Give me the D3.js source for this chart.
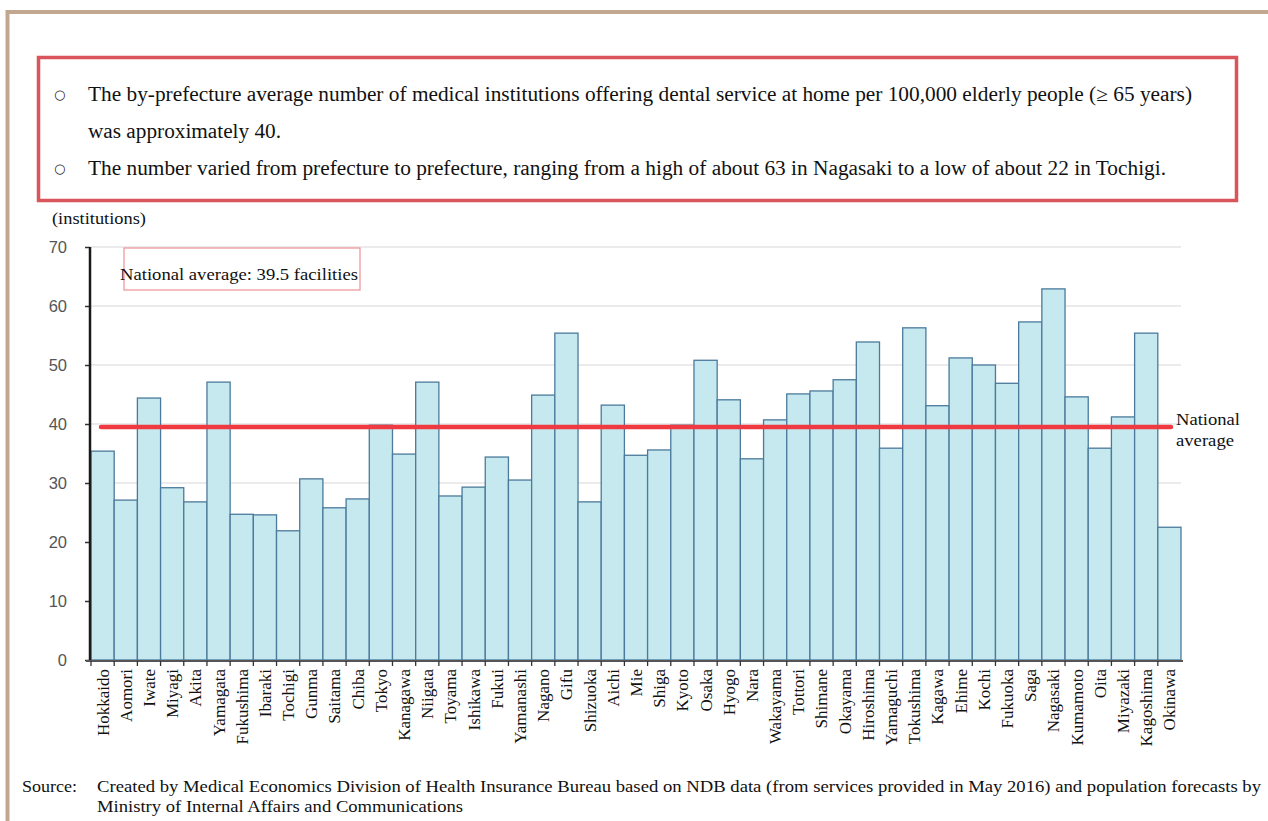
<!DOCTYPE html>
<html><head><meta charset="utf-8">
<script src="https://cdn.jsdelivr.net/npm/d3@7"></script>
<style>body{margin:0;background:#fff;}svg{display:block;}</style>
</head><body>
<script>
const prefectures = ["Hokkaido","Aomori","Iwate","Miyagi","Akita","Yamagata","Fukushima","Ibaraki","Tochigi","Gunma","Saitama","Chiba","Tokyo","Kanagawa","Niigata","Toyama","Ishikawa","Fukui","Yamanashi","Nagano","Gifu","Shizuoka","Aichi","Mie","Shiga","Kyoto","Osaka","Hyogo","Nara","Wakayama","Tottori","Shimane","Okayama","Hiroshima","Yamaguchi","Tokushima","Kagawa","Ehime","Kochi","Fukuoka","Saga","Nagasaki","Kumamoto","Oita","Miyazaki","Kagoshima","Okinawa"];
const values = [35.4,27.1,44.4,29.2,26.8,47.1,24.7,24.6,21.9,30.7,25.8,27.3,39.8,34.9,47.1,27.8,29.3,34.4,30.5,44.9,55.4,26.8,43.2,34.7,35.6,39.8,50.8,44.1,34.1,40.7,45.1,45.6,47.5,53.9,35.9,56.3,43.1,51.2,50.0,46.9,57.3,62.9,44.6,35.9,41.2,55.4,22.5];
const nationalAverage = 39.5;
const yTicks = [0,10,20,30,40,50,60,70];
const bulletLines = [
  {bullet:true, text:"The by-prefecture average number of medical institutions offering dental service at home per 100,000 elderly people (\u2265 65 years)"},
  {bullet:false, text:"was approximately 40."},
  {bullet:true, text:"The number varied from prefecture to prefecture, ranging from a high of about 63 in Nagasaki to a low of about 22 in Tochigi."}
];
const sourceLines = ["Created by Medical Economics Division of Health Insurance Bureau based on NDB data (from services provided in May 2016) and population forecasts by","Ministry of Internal Affairs and Communications"];

const W=1268,H=821;
const svg=d3.select("body").append("svg").attr("width",W).attr("height",H);
const serif="'Liberation Serif','Times New Roman',serif";

function txt(xp,yp,s,size,len){
  const t=svg.append("text").attr("x",xp).attr("y",yp).attr("font-family",serif).attr("font-size",size).attr("fill","#111").text(s);
  if(len) t.attr("textLength",len).attr("lengthAdjust","spacingAndGlyphs");
  return t;
}

// outer frame (top & left)
svg.append("line").attr("x1",7.5).attr("x2",W).attr("y1",12).attr("y2",12).attr("stroke","#c1a790").attr("stroke-width",4);
svg.append("line").attr("x1",7.5).attr("x2",7.5).attr("y1",10).attr("y2",H).attr("stroke","#c1a790").attr("stroke-width",4);

// summary box
svg.append("rect").attr("x",38.5).attr("y",57.5).attr("width",1198).attr("height",143).attr("fill","none").attr("stroke","#d9555b").attr("stroke-width",3.5);
const lineY=[101,138,175];
const lineLen=[1104,193,1078];
bulletLines.forEach((l,i)=>{
  if(l.bullet) svg.append("text").attr("x",54).attr("y",lineY[i]-2).attr("font-family","'DejaVu Sans',sans-serif").attr("font-size",13).attr("fill","#222").text("\u25CB");
  txt(88,lineY[i],l.text,20,lineLen[i]);
});

// chart
const m={l:90,r:1181,t:247,b:660};
const x=d3.scaleBand().domain(prefectures).range([m.l+1,m.r]).padding(0);
const y=d3.scaleLinear().domain([0,70]).range([m.b,m.t]);

txt(52,224,"(institutions)",17,94);

// grid
svg.append("g").selectAll("line").data(yTicks.filter(d=>d>0)).join("line")
  .attr("x1",m.l).attr("x2",m.r).attr("y1",d=>y(d)).attr("y2",d=>y(d))
  .attr("stroke","#e4e4e4").attr("stroke-width",1.5);

// bars
svg.append("g").selectAll("rect").data(values).join("rect")
  .attr("x",(d,i)=>x(prefectures[i]))
  .attr("y",d=>y(d))
  .attr("width",x.bandwidth())
  .attr("height",d=>y(0)-y(d))
  .attr("fill","#c6e8ef").attr("stroke","#4b7a9c").attr("stroke-width",1.3);

// y axis
const yAxis=d3.axisLeft(y).tickValues(yTicks).tickSize(5).tickPadding(18);
const ga=svg.append("g").attr("transform",`translate(${m.l},0)`).call(yAxis);
ga.select(".domain").remove();
ga.selectAll(".tick line").attr("stroke","#333").attr("stroke-width",1.5);
ga.selectAll(".tick text").attr("font-family","'Liberation Sans',Arial,sans-serif").attr("font-size",16.5).attr("fill","#555");
svg.append("line").attr("x1",m.l).attr("x2",m.l).attr("y1",m.t).attr("y2",m.b+1).attr("stroke","#1a1a1a").attr("stroke-width",2.5);

// x axis
const xAxis=d3.axisBottom(x).tickSize(5).tickSizeOuter(0).tickPadding(0);
const gx=svg.append("g").attr("transform",`translate(0,${m.b+1})`).call(xAxis);
gx.select(".domain").attr("stroke","#555").attr("stroke-width",2).attr("d",`M${m.l-4},0H${m.r+2}`);
gx.selectAll(".tick line").attr("stroke","#333").attr("stroke-width",1.3)
  .attr("transform",`translate(${-x.bandwidth()/2},0)`);
gx.selectAll(".tick text").attr("font-family",serif).attr("font-size",17).attr("fill","#111")
  .attr("text-anchor","end").attr("dy","0.35em")
  .attr("transform","translate(0,8) rotate(-90)").attr("x",0).attr("y",0);

// national average line
svg.append("line").attr("x1",x(prefectures[0])+10).attr("x2",m.r-10)
  .attr("y1",y(nationalAverage)).attr("y2",y(nationalAverage))
  .attr("stroke","#ef3a42").attr("stroke-width",4.5).attr("stroke-linecap","round");
txt(1176,y(nationalAverage)-2,"National",17,64);
txt(1176,y(nationalAverage)+19,"average",17,58);

// legend box
svg.append("rect").attr("x",124).attr("y",248).attr("width",236).attr("height",42).attr("fill","none").attr("stroke","#f19aa0").attr("stroke-width",1.3);
txt(120,280,`National average: ${nationalAverage} facilities`,17,238);

// source
txt(22,792,"Source:",16,55);
const srcLen=[1164,366];
sourceLines.forEach((s,i)=>txt(97,792+20*i,s,16,srcLen[i]));
</script>
</body></html>
